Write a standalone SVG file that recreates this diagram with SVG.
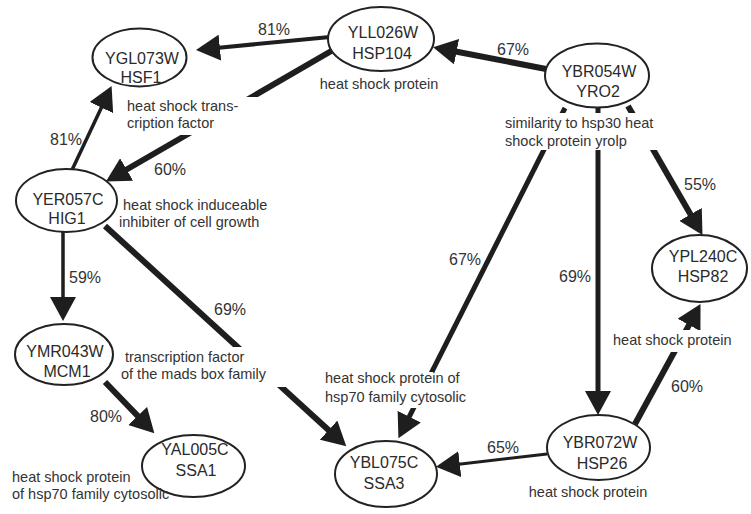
<svg xmlns="http://www.w3.org/2000/svg" width="751" height="514" viewBox="0 0 751 514">
<style>
.n{fill:#fff;stroke:#222;stroke-width:2}
.t{font-family:"Liberation Sans",Arial,sans-serif;font-size:16px;fill:#2a2a2a;text-anchor:middle}
.d{font-family:"Liberation Sans",Arial,sans-serif;font-size:14.5px;fill:#333}
.p{font-family:"Liberation Sans",Arial,sans-serif;font-size:16px;fill:#333;text-anchor:middle}
.e{stroke:#1e1e1e;fill:none}
.bx{fill:#fff}
</style>
<defs>
<marker id="ah" viewBox="0 0 24 26" markerWidth="24" markerHeight="26" refX="1" refY="13" orient="auto" markerUnits="userSpaceOnUse">
<path d="M0,0 L24,13 L0,26 z" fill="#1e1e1e"/>
</marker>
</defs>
<g id="connectors">
<line class="e" x1="330" y1="37" x2="218.9" y2="47.7" stroke-width="4" marker-end="url(#ah)"/>
<line class="e" x1="333" y1="50" x2="125.8" y2="170" stroke-width="6" marker-end="url(#ah)"/>
<line class="e" x1="72" y1="170" x2="101.8" y2="106.7" stroke-width="3.5" marker-end="url(#ah)"/>
<line class="e" x1="63" y1="232" x2="63" y2="298" stroke-width="3.5" marker-end="url(#ah)"/>
<line class="e" x1="105" y1="226" x2="329.3" y2="430.8" stroke-width="6" marker-end="url(#ah)"/>
<line class="e" x1="105" y1="382" x2="138.4" y2="416.7" stroke-width="6" marker-end="url(#ah)"/>
<line class="e" x1="546" y1="69" x2="455.6" y2="51.5" stroke-width="6" marker-end="url(#ah)"/>
<line class="e" x1="565" y1="108" x2="408.8" y2="417.6" stroke-width="5" marker-end="url(#ah)"/>
<line class="e" x1="598" y1="108" x2="598" y2="392" stroke-width="5" marker-end="url(#ah)"/>
<line class="e" x1="628" y1="106" x2="691" y2="215.2" stroke-width="6" marker-end="url(#ah)"/>
<line class="e" x1="635" y1="424" x2="689.5" y2="324.1" stroke-width="6" marker-end="url(#ah)"/>
<line class="e" x1="547" y1="454" x2="458.8" y2="464.2" stroke-width="3" marker-end="url(#ah)"/>
<text class="p" x="274" y="35">81%</text>
<text class="p" x="170" y="175">60%</text>
<text class="p" x="66" y="145">81%</text>
<text class="p" x="85" y="283">59%</text>
<text class="p" x="230" y="315">69%</text>
<text class="p" x="106" y="422">80%</text>
<text class="p" x="513" y="55">67%</text>
<text class="p" x="465" y="265">67%</text>
<text class="p" x="575" y="282">69%</text>
<text class="p" x="700" y="190">55%</text>
<text class="p" x="687" y="392">60%</text>
<text class="p" x="503" y="453">65%</text>
</g>
<g id="YGL073W">
<rect class="bx" x="122" y="97" width="141" height="38"/>
<text class="d" x="127" y="111">heat shock trans-</text>
<text class="d" x="127" y="128">cription factor</text>
<ellipse class="n" cx="139.5" cy="57.5" rx="47" ry="29"/>
<text class="t" x="142" y="64">YGL073W</text>
<text class="t" x="141" y="83">HSF1</text>
</g>
<g id="YLL026W">
<text class="d" x="379" y="89" text-anchor="middle">heat shock protein</text>
<ellipse class="n" cx="381" cy="39" rx="53" ry="32"/>
<text class="t" x="383" y="38">YLL026W</text>
<text class="t" x="382" y="59">HSP104</text>
</g>
<g id="YBR054W">
<rect class="bx" x="500" y="113" width="198" height="37"/>
<text class="d" x="505" y="128">similarity to hsp30 heat</text>
<text class="d" x="505" y="146">shock protein yrolp</text>
<ellipse class="n" cx="597" cy="75.5" rx="52" ry="32"/>
<text class="t" x="599" y="77">YBR054W</text>
<text class="t" x="598" y="97">YRO2</text>
</g>
<g id="YER057C">
<text class="d" x="123" y="210">heat shock induceable</text>
<text class="d" x="119" y="227">inhibiter of cell growth</text>
<ellipse class="n" cx="66.5" cy="200.5" rx="50.5" ry="31.5"/>
<text class="t" x="68" y="205">YER057C</text>
<text class="t" x="67" y="224">HIG1</text>
</g>
<g id="YMR043W">
<rect class="bx" x="122" y="347" width="186" height="40"/>
<text class="d" x="125" y="362">transcription factor</text>
<text class="d" x="121" y="379">of the mads box family</text>
<ellipse class="n" cx="64" cy="354.5" rx="49" ry="30.5"/>
<text class="t" x="65" y="357">YMR043W</text>
<text class="t" x="67" y="377">MCM1</text>
</g>
<g id="YAL005C">
<ellipse class="n" cx="193.5" cy="466" rx="51.5" ry="31"/>
<text class="t" x="195" y="455">YAL005C</text>
<text class="t" x="196" y="476">SSA1</text>
<text class="d" x="12" y="482">heat shock protein</text>
<text class="d" x="12" y="499">of hsp70 family cytosolic</text>
</g>
<g id="YBL075C">
<rect class="bx" x="320" y="372" width="185" height="36"/>
<text class="d" x="325" y="383">heat shock protein of</text>
<text class="d" x="325" y="402">hsp70 family cytosolic</text>
<ellipse class="n" cx="386" cy="474" rx="51" ry="33"/>
<text class="t" x="384" y="468">YBL075C</text>
<text class="t" x="384" y="489">SSA3</text>
</g>
<g id="YBR072W">
<text class="d" x="588" y="497" text-anchor="middle">heat shock protein</text>
<ellipse class="n" cx="598.5" cy="447.5" rx="51.5" ry="32.5"/>
<text class="t" x="600" y="448">YBR072W</text>
<text class="t" x="602" y="469">HSP26</text>
</g>
<g id="YPL240C">
<rect class="bx" x="607" y="330" width="133" height="22"/>
<text class="d" x="613" y="345">heat shock protein</text>
<ellipse class="n" cx="699.5" cy="268.5" rx="47.5" ry="33.5"/>
<text class="t" x="703" y="262">YPL240C</text>
<text class="t" x="703" y="282">HSP82</text>
</g>
</svg>
